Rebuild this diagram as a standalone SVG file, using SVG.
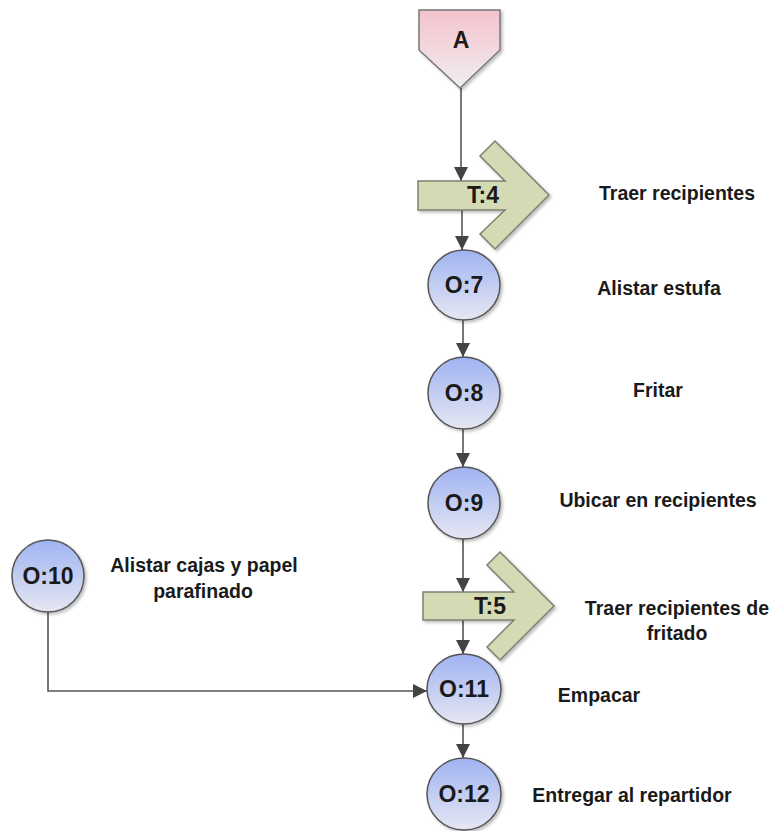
<svg xmlns="http://www.w3.org/2000/svg" width="778" height="831" viewBox="0 0 778 831">
  <defs>
    <linearGradient id="opGrad" x1="0" y1="0" x2="0" y2="1">
      <stop offset="0" stop-color="#9fb3f2"/>
      <stop offset="1" stop-color="#e6e7f2"/>
    </linearGradient>
    <linearGradient id="connGrad" x1="0" y1="0" x2="0" y2="1">
      <stop offset="0" stop-color="#f3c3cc"/>
      <stop offset="1" stop-color="#f1eef0"/>
    </linearGradient>
    <filter id="shadow" x="-20%" y="-20%" width="150%" height="150%">
      <feDropShadow dx="2" dy="2" stdDeviation="1.5" flood-color="#000" flood-opacity="0.25"/>
    </filter>
    <marker id="arrow" viewBox="0 0 14 14" refX="14" refY="7" markerWidth="14" markerHeight="14" markerUnits="userSpaceOnUse" orient="auto">
      <path d="M0,0 L14,7 L0,14 Z" fill="#444"/>
    </marker>
  </defs>
  <style>
    .op { fill: url(#opGrad); stroke: #555; stroke-width: 1.5; filter: url(#shadow); }
    .conn { fill: url(#connGrad); stroke: #777; stroke-width: 1.5; filter: url(#shadow); }
    .tr { fill: #d4dbb4; stroke: #7e8170; stroke-width: 1.5; filter: url(#shadow); }
    .edge { fill: none; stroke: #555; stroke-width: 1.6; marker-end: url(#arrow); }
    .lbl { font-family: "Liberation Sans", Arial, sans-serif; font-weight: 700; font-size: 23px; fill: #1a1a1a; text-anchor: middle; }
    .desc { font-family: "Liberation Sans", Arial, sans-serif; font-weight: 700; font-size: 19.5px; fill: #1a1a1a; text-anchor: middle; }
  </style>
  <rect width="778" height="831" fill="#ffffff"/>

  <!-- connectors -->
  <g id="connectors">
    <line class="edge" x1="461" y1="88" x2="461" y2="181"/>
    <line class="edge" x1="462" y1="210" x2="462" y2="250"/>
    <line class="edge" x1="463" y1="320" x2="463" y2="357"/>
    <line class="edge" x1="463" y1="429" x2="463" y2="467"/>
    <line class="edge" x1="463" y1="539" x2="463" y2="592"/>
    <line class="edge" x1="463" y1="620" x2="463" y2="654"/>
    <line class="edge" x1="463" y1="724" x2="463" y2="758"/>
    <polyline class="edge" points="48,612 48,691 427,691"/>
  </g>

  <!-- off-page connector A -->
  <g id="conn-A">
    <polygon class="conn" points="419,10 500,10 500,50 460,88 419,50"/>
    <text class="lbl" x="461" y="48" font-size="24">A</text>
  </g>

  <!-- transport T:4 -->
  <g id="T4">
    <polygon class="tr" points="418,181 505,181 480,156 495,141 549,195 495,249 480,234 505,210 418,210"/>
    <text class="lbl" x="483" y="203">T:4</text>
  </g>
  <text class="desc" x="677" y="200">Traer recipientes</text>

  <!-- operations -->
  <g id="O7">
    <ellipse class="op" cx="464" cy="285" rx="36" ry="35"/>
    <text class="lbl" x="464" y="293">O:7</text>
  </g>
  <text class="desc" x="659" y="295">Alistar estufa</text>

  <g id="O8">
    <ellipse class="op" cx="464" cy="393" rx="36" ry="36"/>
    <text class="lbl" x="464" y="401">O:8</text>
  </g>
  <text class="desc" x="658" y="397">Fritar</text>

  <g id="O9">
    <ellipse class="op" cx="464" cy="503" rx="36" ry="36"/>
    <text class="lbl" x="464" y="511">O:9</text>
  </g>
  <text class="desc" x="658" y="507">Ubicar en recipientes</text>

  <g id="O10">
    <ellipse class="op" cx="48" cy="576" rx="36" ry="36"/>
    <text class="lbl" x="48" y="584">O:10</text>
  </g>
  <text class="desc" x="204" y="572">Alistar cajas y papel</text>
  <text class="desc" x="203" y="598">parafinado</text>

  <!-- transport T:5 -->
  <g id="T5">
    <polygon class="tr" points="423,592 514,592 487,565 500,552 554,606 500,660 487,647 514,620 423,620"/>
    <text class="lbl" x="490" y="614">T:5</text>
  </g>
  <text class="desc" x="677" y="615">Traer recipientes de</text>
  <text class="desc" x="677" y="640">fritado</text>

  <g id="O11">
    <ellipse class="op" cx="464" cy="689" rx="37" ry="35"/>
    <text class="lbl" x="464" y="697">O:11</text>
  </g>
  <text class="desc" x="599" y="702">Empacar</text>

  <g id="O12">
    <ellipse class="op" cx="464" cy="794" rx="37" ry="36"/>
    <text class="lbl" x="464" y="802">O:12</text>
  </g>
  <text class="desc" x="632" y="802">Entregar al repartidor</text>
</svg>
